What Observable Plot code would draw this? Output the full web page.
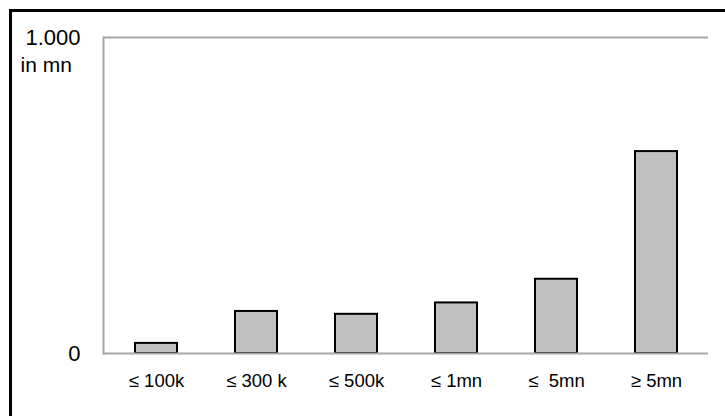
<!DOCTYPE html>
<html>
<head>
<meta charset="utf-8">
<script src="https://cdn.jsdelivr.net/npm/d3@7"></script>
<script src="https://cdn.jsdelivr.net/npm/@observablehq/plot@0.6"></script>
<style>
  html, body { margin: 0; padding: 0; background: #fff; overflow: hidden; }
  #wrap { position: relative; width: 725px; height: 416px; overflow: hidden; }
  #border { position: absolute; left: 9px; top: 9px; width: 740px; height: 440px; border: 3px solid #000; box-sizing: border-box; }
  #chart { position: absolute; left: 0; top: 0; }
</style>
</head>
<body>
<div id="wrap"><div id="border"></div><div id="chart"></div></div>
<script>
const categories = ["≤ 100k", "≤ 300 k", "≤ 500k", "≤ 1mn", "≤  5mn", "≥ 5mn"];
const values = [32, 133, 124, 160, 235, 639];
const yTicks = [0, 1000];
const yTickLabels = ["0", "1.000"];
const unitLabel = "in mn";

const data = categories.map((c, i) => ({category: c, value: values[i]}));
const font = "Liberation Sans, Arial, sans-serif";

const chart = Plot.plot({
  width: 725,
  height: 416,
  marginLeft: 103,
  marginRight: 17,
  marginTop: 37,
  marginBottom: 63,
  style: {fontFamily: font, background: "transparent", color: "#000"},
  x: {domain: categories, paddingInner: 0.58, paddingOuter: 0.29, label: null},
  y: {domain: [0, 1000], label: null},
  marks: [
    Plot.ruleY([1000], {stroke: "#a6a6a6", strokeWidth: 2}),
    Plot.frame({anchor: "left", stroke: "#a6a6a6", strokeWidth: 2}),
    Plot.barY(data, {x: "category", y: "value", fill: "#bfbfbf", stroke: "#000", strokeWidth: 2}),
    Plot.ruleY([0], {stroke: "#a6a6a6", strokeWidth: 2}),
    Plot.axisX({tickSize: 0, tickPadding: 20, fontSize: 18.5, fill: "#000"}),
    Plot.axisY({ticks: yTicks, tickFormat: d => yTickLabels[yTicks.indexOf(d)], tickSize: 0, tickPadding: 23, fontSize: 22, fill: "#000", label: null}),
    Plot.text([unitLabel], {frameAnchor: "top-left", text: d => d, dx: -83, dy: 28, textAnchor: "start", lineAnchor: "middle", fontSize: 21, fill: "#000"})
  ]
});
document.getElementById("chart").appendChild(chart);
</script>
</body>
</html>
